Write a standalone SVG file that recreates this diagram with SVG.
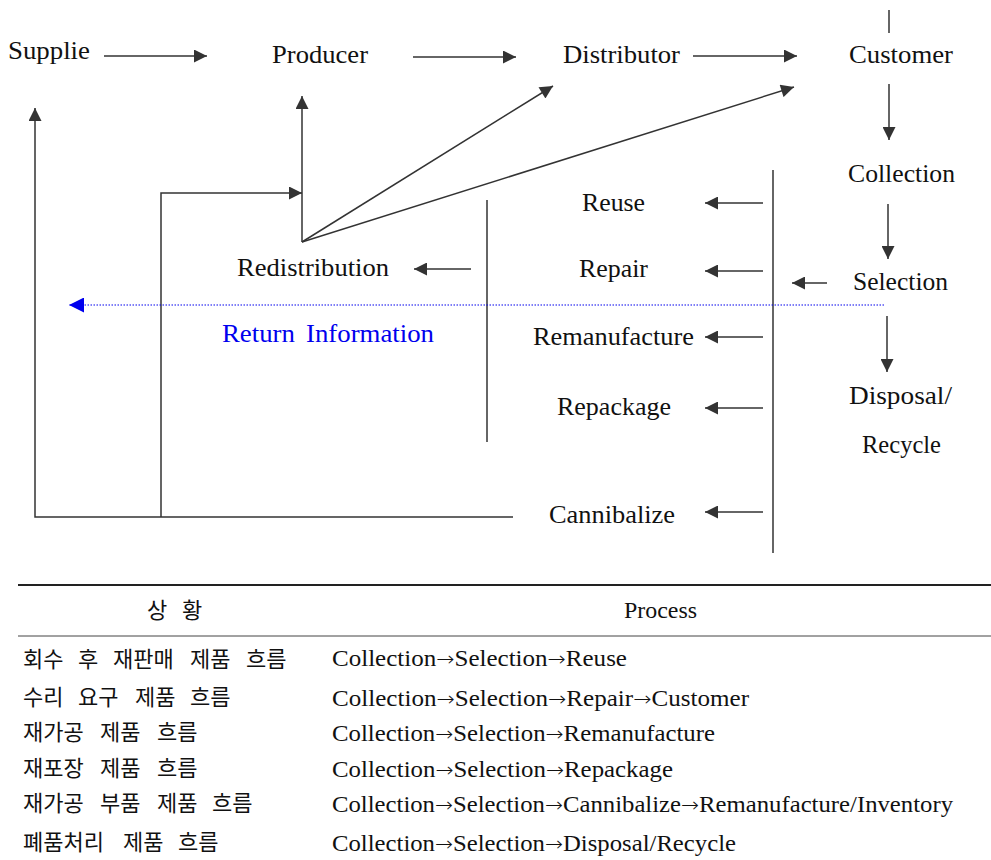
<svg xmlns="http://www.w3.org/2000/svg" width="991" height="860" viewBox="0 0 991 860">
  <style>
    .lbl { font-family: "Liberation Serif", "DejaVu Serif", serif; font-size: 24.5px; fill: #111; }
    .blue { fill: #0000ee; }
    .ln { stroke: #333; stroke-width: 1.5; fill: none; }
    .arr { stroke: #333; stroke-width: 1.5; fill: none; marker-end: url(#ah); }
    .tbl { font-family: "Liberation Serif", serif; font-size: 23px; fill: #111; }
    .tbl tspan.to { font-family: "DejaVu Sans", sans-serif; font-size: 20px; font-weight: 300; }
    .kor { font-family: "Noto Sans CJK KR", sans-serif; font-size: 22px; fill: #111; }
  </style>
  <defs>
    <marker id="ah" viewBox="0 0 10 10" refX="10" refY="5" markerUnits="userSpaceOnUse" markerWidth="15" markerHeight="13" orient="auto">
      <path d="M0,0 L10,5 L0,10 z" fill="#333"/>
    </marker>
    <marker id="ahb" viewBox="0 0 10 10" refX="10" refY="5" markerUnits="userSpaceOnUse" markerWidth="15" markerHeight="15" orient="auto">
      <path d="M0,0 L10,5 L0,10 z" fill="#0000ee"/>
    </marker>
  </defs>

  <rect width="991" height="860" fill="#fff"/>

  <!-- nodes -->
  <g id="supplier"><text class="lbl" x="8" y="59" textLength="82" lengthAdjust="spacingAndGlyphs">Supplie</text></g>
  <g id="producer"><text class="lbl" x="272" y="63" textLength="96" lengthAdjust="spacingAndGlyphs">Producer</text></g>
  <g id="distributor"><text class="lbl" x="563" y="63" textLength="117" lengthAdjust="spacingAndGlyphs">Distributor</text></g>
  <g id="customer"><text class="lbl" x="849" y="63" textLength="104" lengthAdjust="spacingAndGlyphs">Customer</text></g>
  <g id="collection"><text class="lbl" x="848" y="182" textLength="107" lengthAdjust="spacingAndGlyphs">Collection</text></g>
  <g id="selection"><text class="lbl" x="853" y="290" textLength="95" lengthAdjust="spacingAndGlyphs">Selection</text></g>
  <g id="disposal">
    <text class="lbl" x="849" y="404" textLength="103" lengthAdjust="spacingAndGlyphs">Disposal/</text>
    <text class="lbl" x="862" y="453" textLength="79" lengthAdjust="spacingAndGlyphs">Recycle</text>
  </g>
  <g id="reuse"><text class="lbl" x="582" y="211" textLength="63" lengthAdjust="spacingAndGlyphs">Reuse</text></g>
  <g id="repair"><text class="lbl" x="579" y="277" textLength="69" lengthAdjust="spacingAndGlyphs">Repair</text></g>
  <g id="remanufacture"><text class="lbl" x="533" y="345" textLength="161" lengthAdjust="spacingAndGlyphs">Remanufacture</text></g>
  <g id="repackage"><text class="lbl" x="557" y="415" textLength="114" lengthAdjust="spacingAndGlyphs">Repackage</text></g>
  <g id="cannibalize"><text class="lbl" x="549" y="523" textLength="126" lengthAdjust="spacingAndGlyphs">Cannibalize</text></g>
  <g id="redistribution"><text class="lbl" x="237" y="276" textLength="152" lengthAdjust="spacingAndGlyphs">Redistribution</text></g>
  <g id="return-info"><text class="lbl blue" x="222" y="342" textLength="212" lengthAdjust="spacingAndGlyphs" word-spacing="4">Return Information</text></g>

  <!-- connectors -->
  <g id="connectors">
    <line class="arr" x1="104" y1="56" x2="207" y2="56"/>
    <line class="arr" x1="413" y1="57" x2="516" y2="57"/>
    <line class="arr" x1="693" y1="56" x2="797" y2="56"/>
    <line class="ln" x1="889" y1="10" x2="889" y2="33"/>
    <line class="arr" x1="889" y1="84" x2="889" y2="140"/>
    <line class="arr" x1="888" y1="204" x2="888" y2="259"/>
    <line class="arr" x1="887" y1="316" x2="887" y2="372"/>
    <line class="arr" x1="827" y1="283" x2="792" y2="283"/>
    <line class="ln" x1="773" y1="170" x2="773" y2="553"/>
    <line class="arr" x1="763" y1="203" x2="705" y2="203"/>
    <line class="arr" x1="763" y1="271" x2="705" y2="271"/>
    <line class="arr" x1="763" y1="337" x2="705" y2="337"/>
    <line class="arr" x1="763" y1="408" x2="705" y2="408"/>
    <line class="arr" x1="763" y1="512" x2="705" y2="512"/>
    <line class="ln" x1="487" y1="200" x2="487" y2="442"/>
    <line class="arr" x1="471" y1="269" x2="414" y2="269"/>
    <line class="arr" x1="302" y1="242" x2="302" y2="96"/>
    <line class="arr" x1="302" y1="242" x2="553" y2="86"/>
    <line class="arr" x1="302" y1="242" x2="794" y2="87"/>
    <polyline class="arr" points="161,517 161,193 302,193"/>
    <polyline class="arr" points="513,517 35,517 35,108"/>
    <line x1="884" y1="305" x2="69" y2="305" stroke="#0000ee" stroke-width="1.2" stroke-dasharray="1.5 1.5" marker-end="url(#ahb)"/>
  </g>

  <!-- table -->
  <g id="table">
    <line x1="18" y1="585" x2="991" y2="585" stroke="#222" stroke-width="2"/>
    <line x1="18" y1="636" x2="991" y2="636" stroke="#444" stroke-width="1"/>
    <text class="kor" y="618"><tspan x="147">상</tspan> <tspan x="182">황</tspan></text>
    <text class="tbl" x="624" y="618" font-size="21" textLength="73" lengthAdjust="spacingAndGlyphs">Process</text>
    <text class="kor" y="667"><tspan x="23">회수</tspan> <tspan x="78">후</tspan> <tspan x="113">재판매</tspan> <tspan x="190">제품</tspan> <tspan x="246">흐름</tspan></text>
    <text class="kor" y="705"><tspan x="23">수리</tspan> <tspan x="78">요구</tspan> <tspan x="135">제품</tspan> <tspan x="190">흐름</tspan></text>
    <text class="kor" y="740"><tspan x="23">재가공</tspan> <tspan x="100">제품</tspan> <tspan x="157">흐름</tspan></text>
    <text class="kor" y="776"><tspan x="23">재포장</tspan> <tspan x="100">제품</tspan> <tspan x="157">흐름</tspan></text>
    <text class="kor" y="811"><tspan x="23">재가공</tspan> <tspan x="100">부품</tspan> <tspan x="157">제품</tspan> <tspan x="212">흐름</tspan></text>
    <text class="kor" y="850"><tspan x="23">폐품처리</tspan> <tspan x="123">제품</tspan> <tspan x="178">흐름</tspan></text>
    <text class="tbl" x="332" y="666" textLength="295" lengthAdjust="spacingAndGlyphs">Collection<tspan class="to">→</tspan>Selection<tspan class="to">→</tspan>Reuse</text>
    <text class="tbl" x="332" y="706" textLength="417" lengthAdjust="spacingAndGlyphs">Collection<tspan class="to">→</tspan>Selection<tspan class="to">→</tspan>Repair<tspan class="to">→</tspan>Customer</text>
    <text class="tbl" x="332" y="741" textLength="383" lengthAdjust="spacingAndGlyphs">Collection<tspan class="to">→</tspan>Selection<tspan class="to">→</tspan>Remanufacture</text>
    <text class="tbl" x="332" y="777" textLength="341" lengthAdjust="spacingAndGlyphs">Collection<tspan class="to">→</tspan>Selection<tspan class="to">→</tspan>Repackage</text>
    <text class="tbl" x="332" y="812" textLength="621" lengthAdjust="spacingAndGlyphs">Collection<tspan class="to">→</tspan>Selection<tspan class="to">→</tspan>Cannibalize<tspan class="to">→</tspan>Remanufacture/Inventory</text>
    <text class="tbl" x="332" y="851" textLength="404" lengthAdjust="spacingAndGlyphs">Collection<tspan class="to">→</tspan>Selection<tspan class="to">→</tspan>Disposal/Recycle</text>
  </g>
</svg>
